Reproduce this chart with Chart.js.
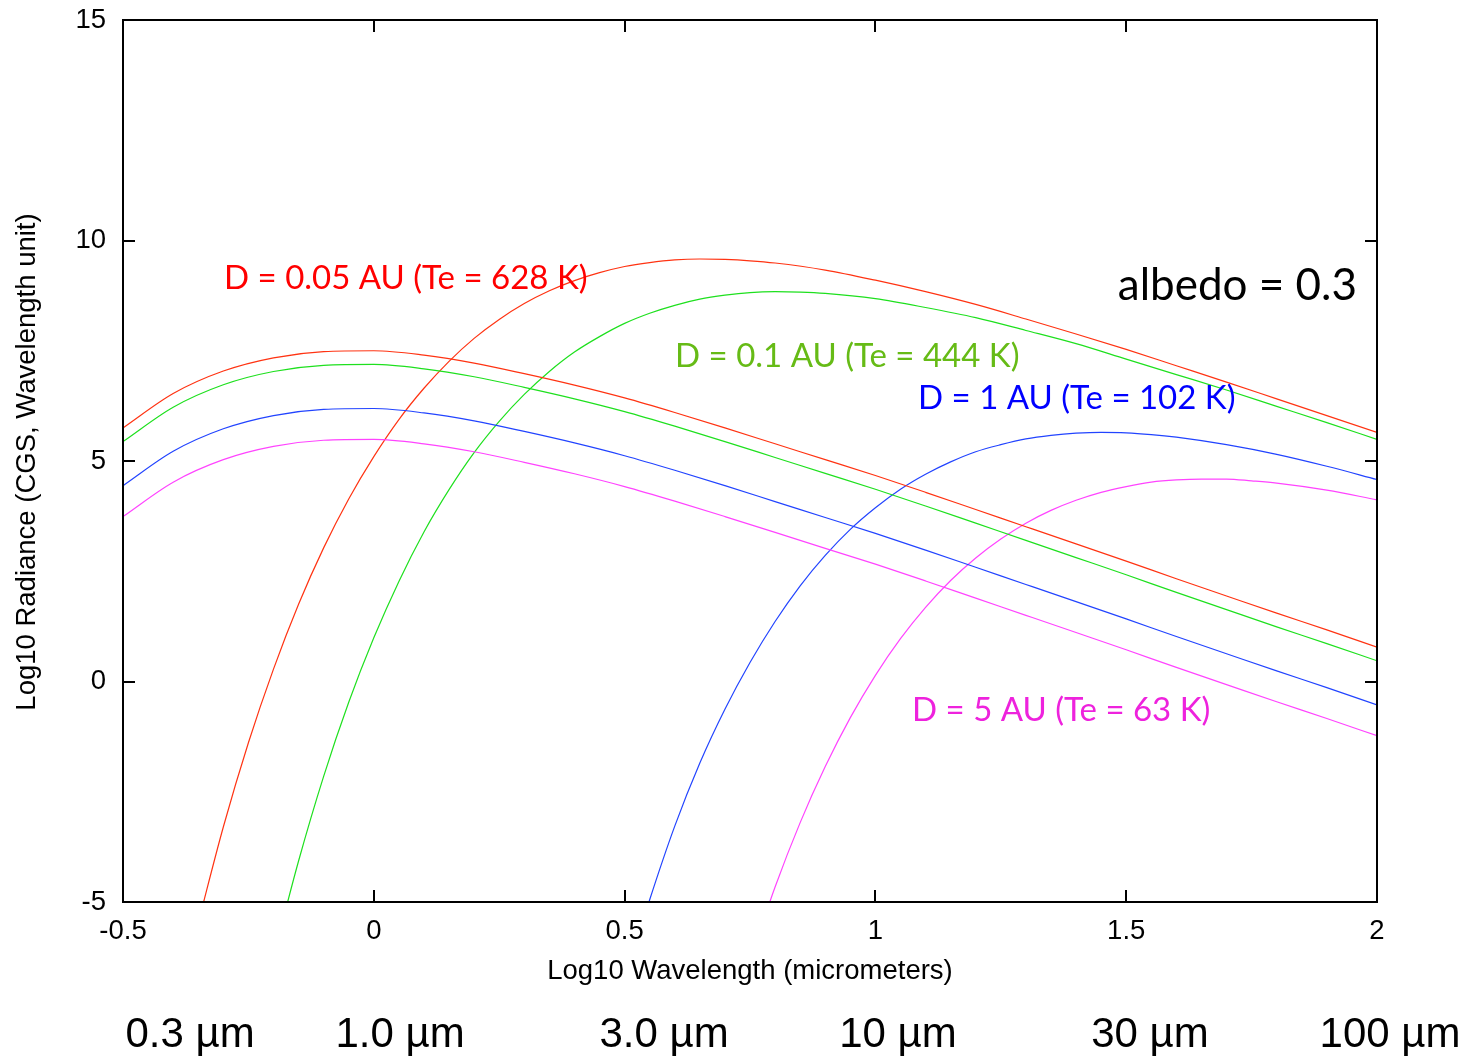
<!DOCTYPE html>
<html>
<head>
<meta charset="utf-8">
<script src="https://cdn.jsdelivr.net/npm/chart.js@4.4.1/dist/chart.umd.min.js"></script>
<style>
  html, body { margin: 0; padding: 0; background: #fff; }
  #wrap { width: 1468px; height: 1056px; }
</style>
</head>
<body>
<div id="wrap"><canvas id="radianceChart" width="1468" height="1056"></canvas></div>
<script>
// log10 wavelength grid for the reflected sunlight curves
const reflX = [-0.5, -0.4, -0.3, -0.2, -0.1, 0, 0.1, 0.2, 0.3, 0.4, 0.5, 0.6, 0.7, 0.8, 0.9, 1.0, 1.1, 1.2, 1.3, 1.4, 1.5, 1.6, 1.7, 1.8, 1.9, 2.0];
const refl005 = [5.75, 6.53, 7.04, 7.34, 7.48, 7.50, 7.40, 7.22, 6.98, 6.72, 6.43, 6.10, 5.75, 5.39, 5.03, 4.67, 4.29, 3.90, 3.51, 3.12, 2.73, 2.33, 1.94, 1.55, 1.17, 0.78];
const refl01 = [5.44, 6.22, 6.73, 7.03, 7.17, 7.19, 7.09, 6.91, 6.67, 6.41, 6.12, 5.79, 5.44, 5.08, 4.72, 4.36, 3.98, 3.59, 3.20, 2.81, 2.42, 2.02, 1.63, 1.24, 0.86, 0.47];
const refl1 = [4.44, 5.22, 5.73, 6.03, 6.17, 6.19, 6.09, 5.91, 5.67, 5.41, 5.12, 4.79, 4.44, 4.08, 3.72, 3.36, 2.98, 2.59, 2.20, 1.81, 1.42, 1.02, 0.63, 0.24, -0.14, -0.53];
const refl5 = [3.74, 4.52, 5.03, 5.33, 5.47, 5.49, 5.39, 5.21, 4.97, 4.71, 4.42, 4.09, 3.74, 3.38, 3.02, 2.66, 2.28, 1.89, 1.50, 1.11, 0.72, 0.32, -0.07, -0.46, -0.84, -1.23];

// thermal emission curves (first point sits just under the -5 floor)
const therm005X = [-0.35, -0.30, -0.25, -0.20, -0.15, -0.10, -0.05, 0, 0.05, 0.10, 0.15, 0.20, 0.25, 0.30, 0.35, 0.40, 0.45, 0.50, 0.55, 0.60, 0.65, 0.70, 0.75, 0.80, 0.90, 1.0, 1.1, 1.2, 1.3, 1.4, 1.5, 1.6, 1.7, 1.8, 1.9, 2.0];
const therm005Y = [-5.47, -3.30, -1.39, 0.28, 1.75, 3.03, 4.14, 5.10, 5.94, 6.65, 7.26, 7.78, 8.21, 8.57, 8.86, 9.09, 9.27, 9.41, 9.50, 9.56, 9.58, 9.57, 9.54, 9.49, 9.33, 9.10, 8.84, 8.55, 8.22, 7.88, 7.53, 7.16, 6.79, 6.41, 6.03, 5.65];
const therm01X = [-0.20, -0.15, -0.10, -0.05, 0, 0.05, 0.10, 0.15, 0.20, 0.25, 0.30, 0.35, 0.40, 0.45, 0.50, 0.55, 0.60, 0.65, 0.70, 0.75, 0.80, 0.85, 0.90, 1.0, 1.1, 1.2, 1.3, 1.4, 1.5, 1.6, 1.7, 1.8, 1.9, 2.0];
const therm01Y = [-6.24, -4.07, -2.15, -0.47, 0.99, 2.27, 3.39, 4.35, 5.19, 5.90, 6.51, 7.03, 7.47, 7.82, 8.12, 8.35, 8.53, 8.67, 8.76, 8.82, 8.84, 8.83, 8.80, 8.68, 8.48, 8.25, 7.96, 7.66, 7.31, 6.96, 6.61, 6.24, 5.87, 5.49];
const therm1X = [0.50, 0.55, 0.60, 0.65, 0.70, 0.75, 0.80, 0.85, 0.90, 0.95, 1.0, 1.05, 1.10, 1.15, 1.20, 1.25, 1.30, 1.35, 1.40, 1.45, 1.50, 1.55, 1.60, 1.7, 1.8, 1.9, 2.0];
const therm1Y = [-6.80, -4.95, -3.28, -1.85, -0.63, 0.43, 1.36, 2.17, 2.86, 3.45, 3.94, 4.36, 4.70, 4.98, 5.21, 5.37, 5.50, 5.58, 5.63, 5.65, 5.64, 5.60, 5.54, 5.37, 5.15, 4.88, 4.58];
const therm5X = [0.75, 0.80, 0.85, 0.90, 0.95, 1.0, 1.05, 1.10, 1.15, 1.20, 1.25, 1.30, 1.35, 1.40, 1.45, 1.50, 1.55, 1.60, 1.65, 1.70, 1.75, 1.80, 1.9, 2.0];
const therm5Y = [-6.33, -4.66, -3.20, -1.93, -0.82, 0.14, 0.97, 1.68, 2.29, 2.80, 3.23, 3.59, 3.88, 4.11, 4.29, 4.42, 4.52, 4.57, 4.59, 4.59, 4.55, 4.50, 4.34, 4.12];

const xTicks = [-0.5, 0, 0.5, 1, 1.5, 2];
const xTickLabels = ["-0.5", "0", "0.5", "1", "1.5", "2"];
const yTicks = [-5, 0, 5, 10, 15];
const yTickLabels = ["-5", "0", "5", "10", "15"];
const curveLabels = ["D = 0.05 AU (Te = 628 K)", "D = 0.1 AU (Te = 444 K)", "D = 1 AU (Te = 102 K)", "D = 5 AU (Te = 63 K)"];
const umLabels = ["0.3 \u00b5m", "1.0 \u00b5m", "3.0 \u00b5m", "10 \u00b5m", "30 \u00b5m", "100 \u00b5m"];

const RED = "#ff3312", GREEN = "#1ee01e", BLUE = "#2244ff", MAGENTA = "#ff44ff";
const SANS = "'Liberation Sans', Arial, sans-serif";

function pts(xs, ys) {
  return xs.map((x, i) => ({ x: x, y: ys[i] }));
}

function line(data, color) {
  return {
    data: data,
    borderColor: color,
    borderWidth: 1.2,
    pointRadius: 0,
    fill: false,
    cubicInterpolationMode: "monotone"
  };
}

const frame = {
  id: "frame",
  afterDraw(chart) {
    const c = chart.ctx;
    const a = chart.chartArea;
    const xs = chart.scales.x, ys = chart.scales.y;
    c.save();
    c.strokeStyle = "#000";
    c.lineWidth = 2;
    c.strokeRect(a.left, a.top, a.right - a.left, a.bottom - a.top);
    c.beginPath();
    xTicks.forEach(v => {
      const px = Math.round(xs.getPixelForValue(v));
      c.moveTo(px, a.bottom); c.lineTo(px, a.bottom - 12);
      c.moveTo(px, a.top); c.lineTo(px, a.top + 12);
    });
    yTicks.forEach(v => {
      const py = Math.round(ys.getPixelForValue(v));
      c.moveTo(a.left, py); c.lineTo(a.left + 12, py);
      c.moveTo(a.right, py); c.lineTo(a.right - 12, py);
    });
    c.stroke();

    // tick labels
    c.fillStyle = "#000";
    c.font = "27.5px " + SANS;
    c.textBaseline = "middle";
    c.textAlign = "center";
    xTicks.forEach((v, i) => c.fillText(xTickLabels[i], xs.getPixelForValue(v), a.bottom + 29));
    c.textAlign = "right";
    yTicks.forEach((v, i) => c.fillText(yTickLabels[i], a.left - 17, ys.getPixelForValue(v)));

    // axis titles
    c.textAlign = "center";
    c.fillText("Log10 Wavelength (micrometers)", 750, 971);
    c.save();
    c.translate(27, 462);
    c.rotate(-Math.PI / 2);
    c.fillText("Log10 Radiance (CGS, Wavelength unit)", 0, 0);
    c.restore();

    // curve labels
    c.textAlign = "left";
    c.font = "33px Lato, 'Open Sans', sans-serif";
    const labelPos = [[224, 278, "#ff0000"], [675, 356, "#66bb16"], [918, 398, "#0000ff"], [912, 710, "#ee22dd"]];
    curveLabels.forEach((t, i) => {
      c.fillStyle = labelPos[i][2];
      c.fillText(t, labelPos[i][0], labelPos[i][1]);
    });
    c.fillStyle = "#000";
    c.font = "44px Lato, 'Open Sans', sans-serif";
    c.textAlign = "right";
    c.fillText("albedo = 0.3", 1357, 286);

    // wavelength labels under the axis
    c.font = "42px " + SANS;
    c.textAlign = "center";
    const umX = [190, 400, 664, 898, 1150, 1390];
    umLabels.forEach((t, i) => c.fillText(t, umX[i], 1035));
    c.restore();
  }
};

new Chart(document.getElementById("radianceChart"), {
  type: "line",
  data: {
    datasets: [
      line(pts(reflX, refl005), RED),
      line(pts(reflX, refl01), GREEN),
      line(pts(reflX, refl1), BLUE),
      line(pts(reflX, refl5), MAGENTA),
      line(pts(therm005X, therm005Y), RED),
      line(pts(therm01X, therm01Y), GREEN),
      line(pts(therm1X, therm1Y), BLUE),
      line(pts(therm5X, therm5Y), MAGENTA)
    ]
  },
  options: {
    responsive: false,
    animation: false,
    layout: { padding: { top: 20, right: 91, left: 0, bottom: 0 } },
    plugins: { legend: { display: false }, tooltip: { enabled: false } },
    scales: {
      x: {
        type: "linear",
        min: -0.5,
        max: 2,
        grid: { display: false, drawTicks: false },
        border: { display: false },
        ticks: { display: false },
        afterFit: s => { s.height = 154; }
      },
      y: {
        min: -5,
        max: 15,
        grid: { display: false, drawTicks: false },
        border: { display: false },
        ticks: { display: false },
        afterFit: s => { s.width = 123; }
      }
    }
  },
  plugins: [frame]
});
</script>
</body>
</html>
